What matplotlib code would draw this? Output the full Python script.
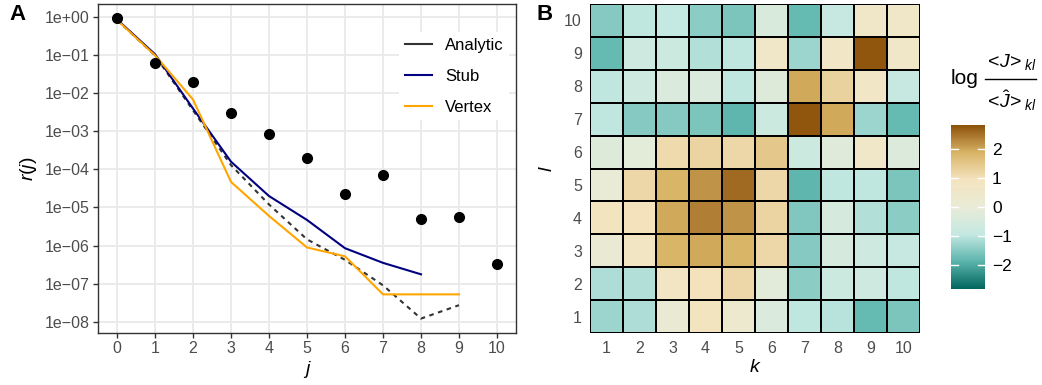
import numpy as np
import matplotlib
matplotlib.use("Agg")
import matplotlib.pyplot as plt
from matplotlib.colors import LinearSegmentedColormap, Normalize
from matplotlib.lines import Line2D

plt.rcParams['font.family'] = ['Liberation Sans', 'DejaVu Sans']
plt.rcParams['mathtext.fontset'] = 'custom'
plt.rcParams['mathtext.rm'] = 'Liberation Sans'
plt.rcParams['mathtext.it'] = 'Liberation Sans:italic'
plt.rcParams['mathtext.bf'] = 'Liberation Sans:bold'

# ---------------- Panel A data ----------------
j_points = [0, 1, 2, 3, 4, 5, 6, 7, 8, 9, 10]
r_observed = [0.94, 0.062, 0.0195, 3.05e-3, 8.5e-4, 2.0e-4, 2.26e-5, 7.2e-5, 5.0e-6, 5.6e-6, 3.3e-7]

j_analytic = [0, 1, 2, 3, 4, 5, 6, 7, 8, 9]
r_analytic = [0.85, 0.10, 3.6e-3, 1.3e-4, 1.2e-5, 1.45e-6, 4.2e-7, 9.0e-8, 1.2e-8, 2.7e-8]

j_stub = [0, 1, 2, 3, 4, 5, 6, 7, 8]
r_stub = [0.88, 0.107, 4.0e-3, 1.6e-4, 2.0e-5, 4.7e-6, 8.5e-7, 3.5e-7, 1.75e-7]

j_vertex = [0, 1, 2, 3, 4, 5, 6, 7, 8, 9]
r_vertex = [0.85, 0.10, 6.9e-3, 4.7e-5, 6.0e-6, 8.9e-7, 5.2e-7, 5.2e-8, 5.2e-8, 5.2e-8]

x_ticks_A = list(range(0, 11))
y_ticks_A = [1e0, 1e-1, 1e-2, 1e-3, 1e-4, 1e-5, 1e-6, 1e-7, 1e-8]
y_ticklabels_A = ["1e+00", "1e\u221201", "1e\u221202", "1e\u221203", "1e\u221204",
                  "1e\u221205", "1e\u221206", "1e\u221207", "1e\u221208"]
legend_labels = ["Analytic", "Stub", "Vertex"]

# ---------------- Panel B data ----------------
k_labels = [1, 2, 3, 4, 5, 6, 7, 8, 9, 10]
l_labels = [1, 2, 3, 4, 5, 6, 7, 8, 9, 10]
# rows: l = 1 .. 10 ; columns: k = 1 .. 10
log_ratio = [
    [-1.3, -1.15, 0.1, 0.9, 0.3, -0.4, -1.0, -1.05, -1.8, -1.6],    # l=1
    [-1.15, -1.1, 0.8, 1.0, 1.2, -0.2, -1.45, -0.75, -0.7, -1.0],   # l=2
    [0.1, 0.8, 1.85, 2.0, 1.85, 1.2, -1.5, -0.5, -0.7, -0.9],       # l=3
    [0.9, 1.0, 2.0, 2.4, 2.2, 1.25, -1.55, -0.5, -1.1, -1.45],      # l=4
    [0.0, 1.2, 1.85, 2.2, 2.6, 1.2, -1.85, -1.0, -1.0, -1.6],       # l=5
    [-0.3, -0.15, 1.15, 1.25, 1.2, 1.5, -0.75, -0.25, 0.6, -0.35],  # l=6
    [-1.0, -1.5, -1.5, -1.6, -1.85, -0.75, 2.8, 2.0, -1.3, -1.8],   # l=7
    [-1.0, -0.7, -0.4, -0.4, -1.0, -0.3, 2.0, 1.3, 0.7, -0.9],      # l=8
    [-1.8, -0.7, -0.75, -1.1, -1.0, 0.6, -1.3, 0.7, 2.8, 0.6],      # l=9
    [-1.5, -1.0, -0.95, -1.45, -1.6, -0.45, -1.8, -0.9, 0.6, 0.6],  # l=10
]
cbar_ticks = [-2, -1, 0, 1, 2]
cmap_colors = ["#01665e", "#5ab4ac", "#c4e8e2", "#e9ebd7", "#f4e4bf", "#d8b365", "#8c510a"]

# ---------------- Figure ----------------
W, H = 1042, 385
fig = plt.figure(figsize=(W / 100, H / 100), dpi=100)

def ax_rect(x0, x1, y0, y1):
    return [x0 / W, 1 - y1 / H, (x1 - x0) / W, (y1 - y0) / H]

def fx(x):
    return x / W

def fy(y):
    return 1 - y / H

tick_col = "#4d4d4d"
line_col = "#333333"

# ---- Panel A ----
axA = fig.add_axes(ax_rect(98, 516, 4, 333))
axA.set_yscale("log")
axA.set_xlim(-0.5, 10.5)
axA.set_ylim(10 ** -8.3, 10 ** 0.35)
axA.set_xticks(x_ticks_A)
axA.set_yticks(y_ticks_A)
axA.set_yticklabels(y_ticklabels_A)
axA.minorticks_off()
axA.grid(True, color="#ebebeb", lw=1.4, zorder=0)
axA.set_axisbelow(True)
for s in axA.spines.values():
    s.set_color(line_col)
    s.set_linewidth(1.0)
axA.tick_params(axis="both", length=3.8, width=1.0, color=line_col,
                labelcolor=tick_col, labelsize=11.5, pad=2)

axA.plot(j_analytic, r_analytic, color="#333333", lw=1.5, ls=(0, (2.2, 2.2)), zorder=3)
axA.plot(j_stub, r_stub, color="#000080", lw=1.5, zorder=3)
axA.plot(j_vertex, r_vertex, color="#FFA500", lw=1.5, zorder=3)
axA.plot(j_points, r_observed, "o", color="black", ms=7, zorder=4)

axA.set_xlabel(r"$j$", fontsize=14, color="black", labelpad=2)
axA.set_ylabel(r"$r(j)$", fontsize=14, color="black", labelpad=4)

handles = [Line2D([], [], color="#333333", lw=1.5),
           Line2D([], [], color="#000080", lw=1.5),
           Line2D([], [], color="#FFA500", lw=1.5)]
leg = axA.legend(handles, legend_labels, loc="upper right",
                 bbox_to_anchor=(1.0, 0.935), frameon=True, fontsize=12,
                 handlelength=1.6, handletextpad=0.8, labelspacing=0.95,
                 borderpad=0.35, borderaxespad=0.4, fancybox=False)
leg.get_frame().set_facecolor("white")
leg.get_frame().set_edgecolor("none")
leg.get_frame().set_alpha(1.0)

fig.text(fx(17), fy(15), "A", fontsize=16, fontweight="bold", ha="center", va="center")

# ---- Panel B ----
cmap = LinearSegmentedColormap.from_list("brbg_r", cmap_colors)
vlim = 2.85
norm = Normalize(vmin=-vlim, vmax=vlim)

axB = fig.add_axes(ax_rect(590, 920.3, 4, 333))
Z = np.array(log_ratio)
xe = np.arange(0.5, len(k_labels) + 1, 1.0)
ye = np.arange(0.5, len(l_labels) + 1, 1.0)
axB.pcolormesh(xe, ye, Z, cmap=cmap, norm=norm, edgecolors="black", linewidth=1.3)
axB.set_xlim(0.5, 10.5)
axB.set_ylim(0.5, 10.5)
axB.set_xticks(k_labels)
axB.set_yticks(l_labels)
for s in axB.spines.values():
    s.set_visible(False)
axB.tick_params(axis="both", length=3.8, color="none", labelcolor=tick_col,
                labelsize=11.5, pad=2)
axB.set_xlabel(r"$k$", fontsize=14, color="black", labelpad=2)
axB.set_ylabel(r"$l$", fontsize=14, color="black", labelpad=6)

fig.text(fx(545), fy(15), "B", fontsize=16, fontweight="bold", ha="center", va="center")

# ---- Colorbar ----
cax = fig.add_axes(ax_rect(951, 985, 125, 289))
sm = matplotlib.cm.ScalarMappable(norm=norm, cmap=cmap)
cb = fig.colorbar(sm, cax=cax, ticks=cbar_ticks)
cb.outline.set_visible(False)
cb.ax.set_yticklabels([str(t).replace("-", "\u2212") for t in cbar_ticks])
cb.ax.tick_params(length=0, labelsize=12.5, labelcolor="black", pad=5)
for t in cbar_ticks:
    cax.plot([0, 0.2], [t, t], color="white", lw=1.0, transform=cax.get_yaxis_transform())
    cax.plot([0.8, 1.0], [t, t], color="white", lw=1.0, transform=cax.get_yaxis_transform())

# colorbar title: log <J>_kl / <J^>_kl
fig.text(fx(951), fy(79), "log", fontsize=15, ha="left", va="center")
fig.text(fx(1010), fy(62), r"$<\!J\!>_{kl}$", fontsize=14, ha="center", va="center")
fig.text(fx(1010), fy(101), r"$<\!\hat{J}\!>_{kl}$", fontsize=14, ha="center", va="center")
fig.add_artist(Line2D([fx(985), fx(1036)], [fy(79), fy(79)], color="black", lw=1.0,
                      transform=fig.transFigure))

fig.savefig("out.png", dpi=100)
